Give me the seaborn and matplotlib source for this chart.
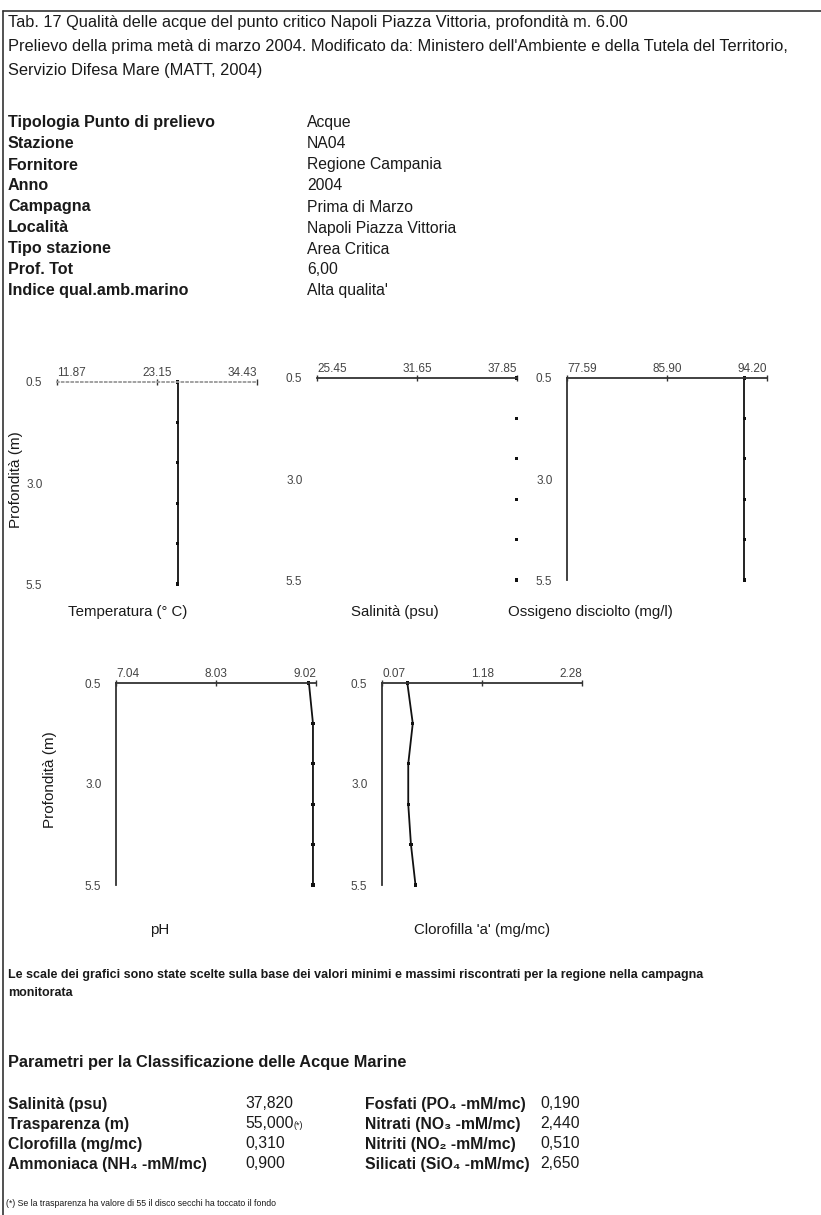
import matplotlib
matplotlib.use("Agg")
import matplotlib.pyplot as plt
from matplotlib.lines import Line2D
import seaborn as sns

sns.set_theme(style="white")
FONT = ["Liberation Sans", "DejaVu Sans"]
plt.rcParams["font.family"] = FONT

# ---------------------------------------------------------------- data
title_lines = [
    "Tab. 17 Qualità delle acque del punto critico Napoli Piazza Vittoria, profondità m. 6.00",
    "Prelievo della prima metà di marzo 2004. Modificato da: Ministero dell'Ambiente e della Tutela del Territorio,",
    "Servizio Difesa Mare (MATT, 2004)",
]
meta_labels = ["Tipologia Punto di prelievo", "Stazione", "Fornitore", "Anno", "Campagna",
               "Località", "Tipo stazione", "Prof. Tot", "Indice qual.amb.marino"]
meta_values = ["Acque", "NA04", "Regione Campania", "2004", "Prima di Marzo",
               "Napoli Piazza Vittoria", "Area Critica", "6,00", "Alta qualita'"]

depth = [0.5, 1.5, 2.5, 3.5, 4.5, 5.5]
depth_ticks = [0.5, 3.0, 5.5]
depth_ticklabels = ["0.5", "3.0", "5.5"]

temperatura = [25.5, 25.5, 25.5, 25.5, 25.5, 25.5]
salinita = [37.82, 37.82, 37.82, 37.82, 37.82, 37.82]
ossigeno = [92.3, 92.3, 92.3, 92.3, 92.3, 92.3]
ph = [8.95, 8.99, 8.99, 8.99, 8.99, 8.99]
clorofilla = [0.35, 0.41, 0.36, 0.36, 0.39, 0.44]

temp_scale = [11.87, 23.15, 34.43]
sal_scale = [25.45, 31.65, 37.85]
oss_scale = [77.59, 85.90, 94.20]
ph_scale = [7.04, 8.03, 9.02]
clo_scale = [0.07, 1.18, 2.28]

captions = ["Temperatura (° C)", "Salinità (psu)", "Ossigeno disciolto (mg/l)",
            "pH", "Clorofilla 'a' (mg/mc)"]

note_lines = [
    "Le scale dei grafici sono state scelte sulla base dei valori minimi e massimi riscontrati per la regione nella campagna",
    "monitorata",
]
section_title = "Parametri per la Classificazione delle Acque Marine"
param_left_labels = ["Salinità (psu)", "Trasparenza (m)", "Clorofilla (mg/mc)", "Ammoniaca (NH\u2084 -mM/mc)"]
param_left_values = ["37,820", "55,000", "0,310", "0,900"]
param_right_labels = ["Fosfati (PO\u2084 -mM/mc)", "Nitrati (NO\u2083 -mM/mc)",
                      "Nitriti (NO\u2082 -mM/mc)", "Silicati (SiO\u2084 -mM/mc)"]
param_right_values = ["0,190", "2,440", "0,510", "2,650"]
footnote = "(*) Se la trasparenza ha valore di 55 il disco secchi ha toccato il fondo"

# ---------------------------------------------------------------- figure
W, H = 821, 1215
fig = plt.figure(figsize=(W / 100, H / 100), dpi=100)
fig.patch.set_facecolor("white")


def fx(x):
    return x / W


def fy(y):
    return 1 - y / H


def put(x, y, s, size=11.8, weight="normal", ha="left", color="#1a1a1a", **kw):
    fig.text(fx(x), fy(y), s, fontsize=size, fontweight=weight, ha=ha, va="center",
             color=color, family=FONT, **kw)


# page frame
fig.add_artist(Line2D([fx(3), fx(821)], [fy(11), fy(11)], color="#333333", lw=1.2))
fig.add_artist(Line2D([fx(3), fx(3)], [fy(11), fy(1215)], color="#333333", lw=1.2))

for i, line in enumerate(title_lines):
    put(8, 23 + i * 24, line)

for i, (lab, val) in enumerate(zip(meta_labels, meta_values)):
    put(8, 123 + i * 21, lab, size=11.6, weight="bold")
    put(307, 123 + i * 21, val, size=11.3)


def profile(left, top, values, scale, caption, cap_x, cap_y, ylabel=None,
            show_left=True, line=True, top_style="-", top_color="#333333"):
    width, height = 200, 202
    ax = fig.add_axes([fx(left), fy(top + height), fx(width), height / H])
    ax.set_facecolor("none")
    if line:
        sns.lineplot(x=values, y=depth, orient="y", sort=False, estimator=None,
                     color="#111111", lw=1.3, ax=ax)
    sns.scatterplot(x=values, y=depth, marker="s", s=5, color="#111111",
                    edgecolor="none", ax=ax, clip_on=False)
    ax.set_xlim(scale[0], scale[2])
    ax.set_ylim(depth_ticks[-1], depth_ticks[0])
    ax.xaxis.tick_top()
    ax.set_xticks(scale)
    ax.set_xticklabels([f"{v:.2f}" for v in scale], fontsize=8.5, color="#444444")
    labs = ax.get_xticklabels()
    labs[0].set_ha("left")
    labs[2].set_ha("right")
    ax.set_yticks(depth_ticks)
    ax.set_yticklabels(depth_ticklabels, fontsize=8.5, color="#444444")
    ax.tick_params(axis="x", direction="inout", length=5, width=1, pad=0, colors="#333333",
                   labelcolor="#444444")
    ax.tick_params(axis="y", direction="inout", length=5, width=1, pad=8, colors="#333333",
                   labelcolor="#444444")
    for side in ["right", "bottom"]:
        ax.spines[side].set_visible(False)
    ax.spines["top"].set_color(top_color)
    ax.spines["top"].set_linestyle(top_style)
    ax.spines["top"].set_linewidth(1.3)
    ax.spines["left"].set_color("#333333")
    ax.spines["left"].set_linewidth(1.3)
    ax.spines["left"].set_visible(show_left)
    ax.set_xlabel("")
    ax.set_ylabel("")
    ax.grid(False)
    if ylabel:
        fig.text(fx(ylabel[0]), fy(ylabel[1]), "Profondità (m)", rotation=90, fontsize=11,
                 ha="center", va="center", color="#1a1a1a", family=FONT)
    put(cap_x, cap_y, caption, size=10.8, ha="center")
    return ax


profile(57, 382, temperatura, temp_scale, captions[0], 128, 612, ylabel=(16, 480),
        show_left=False, top_style=":", top_color="#9a9a9a")
profile(317, 378, salinita, sal_scale, captions[1], 395, 612, show_left=False, line=False)
profile(567, 378, ossigeno, oss_scale, captions[2], 590, 612)
profile(116, 683, ph, ph_scale, captions[3], 160, 930, ylabel=(50, 780))
profile(382, 683, clorofilla, clo_scale, captions[4], 482, 930)

put(8, 975, note_lines[0], size=9.0, weight="bold")
put(8, 993, note_lines[1], size=9.0, weight="bold")
put(8, 1063, section_title, size=11.8, weight="bold")

for i in range(4):
    y = 1104 + i * 20
    put(8, y, param_left_labels[i], size=11.3, weight="bold")
    put(245, y, param_left_values[i], size=11.3)
    put(365, y, param_right_labels[i], size=11.3, weight="bold")
    put(540, y, param_right_values[i], size=11.3)
put(293, 1125, "(*)", size=6.5)
put(6, 1203, footnote, size=6.3)

fig.savefig("out.png", dpi=100, facecolor="white")
